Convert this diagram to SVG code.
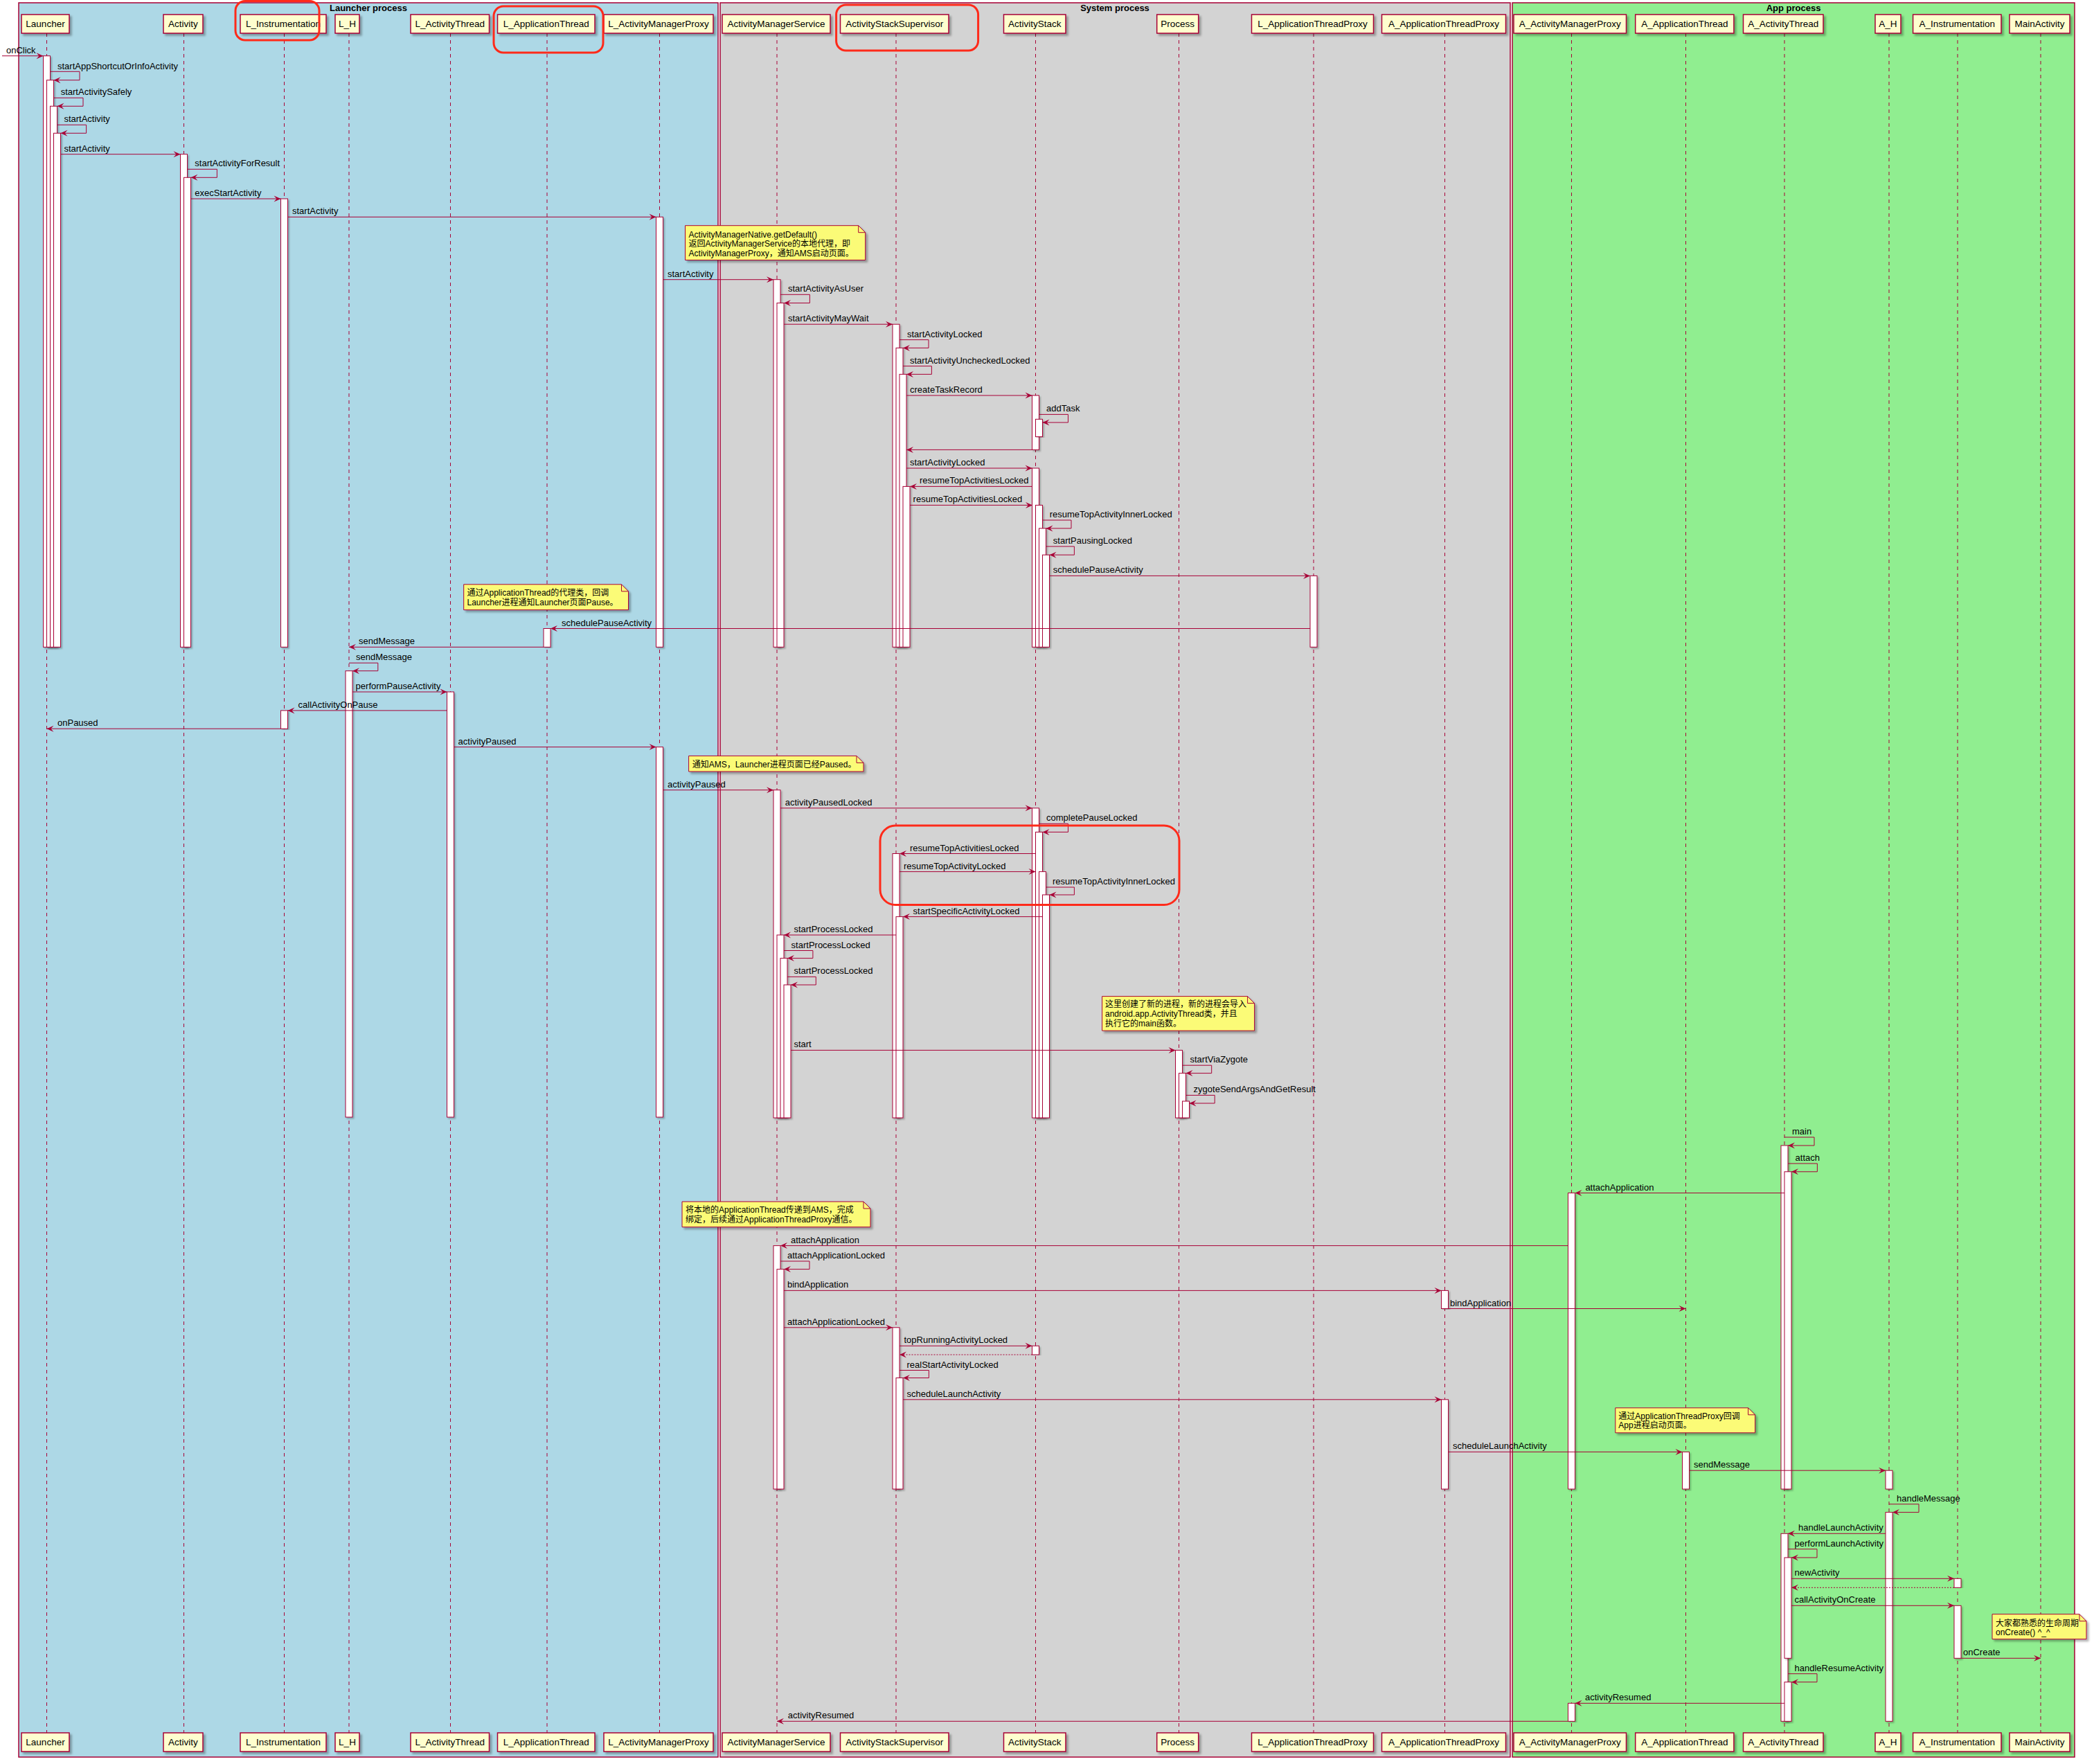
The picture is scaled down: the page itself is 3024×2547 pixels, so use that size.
<svg xmlns="http://www.w3.org/2000/svg" width="3024" height="2547" viewBox="0 0 3024 2547">
<defs>
<style>
.pbox{fill:#FEFECE;stroke:#A80036;stroke-width:1.5;filter:url(#sh)}
.ptxt{font-family:"Liberation Sans",Arial,sans-serif;font-size:13.5px;fill:#000;text-anchor:middle}
.life{stroke:#A80036;stroke-width:1;stroke-dasharray:5,5;fill:none}
.bar{fill:#FFFFFF;stroke:#A80036;stroke-width:1;filter:url(#sh2)}
.msg{stroke:#A80036;stroke-width:1;fill:none;marker-end:url(#ah)}
.ret{stroke:#A80036;stroke-width:1;fill:none;stroke-dasharray:2,2;marker-end:url(#ah)}
.lbl{font-family:"Liberation Sans",Arial,sans-serif;font-size:13px;fill:#000}
.note{fill:#FBFB77;stroke:#A80036;stroke-width:1;filter:url(#sh)}
.fold{fill:none;stroke:#A80036;stroke-width:1}
.ntxt{font-family:"Liberation Sans","Noto Sans CJK SC",sans-serif;font-size:12px;fill:#000}
.grp{stroke:#A80036;stroke-width:1.5}
.gtitle{font-family:"Liberation Sans",Arial,sans-serif;font-size:13px;font-weight:bold;fill:#000;text-anchor:middle}
.hl{fill:none;stroke:#FF2A1A;stroke-width:3}
</style>
<filter id="sh" x="-10%" y="-10%" width="130%" height="150%"><feDropShadow dx="3" dy="3" stdDeviation="1.5" flood-color="#000" flood-opacity="0.3"/></filter>
<filter id="sh2" x="-50%" y="-5%" width="200%" height="110%"><feDropShadow dx="2" dy="2" stdDeviation="1" flood-color="#000" flood-opacity="0.25"/></filter>
<marker id="ah" viewBox="-11 -5 12 10" refX="0" refY="0" markerWidth="12" markerHeight="10" orient="auto" markerUnits="userSpaceOnUse"><path d="M0,0 L-10,-4.5 L-6,0 L-10,4.5 Z" fill="#A80036"/></marker>
</defs>
<rect width="3024" height="2547" fill="#FFFFFF"/>

<g id="groups">
<rect class="grp" x="27" y="4" width="1010" height="2533" fill="#ADD8E6"/>
<text class="gtitle" x="532" y="16">Launcher process</text>
<rect class="grp" x="1040" y="4" width="1141" height="2533" fill="#D3D3D3"/>
<text class="gtitle" x="1610" y="16">System process</text>
<rect class="grp" x="2184" y="4" width="812" height="2533" fill="#90EE90"/>
<text class="gtitle" x="2590" y="16">App process</text>
</g>

<g id="participants">
<g id="Launcher"><line class="life" x1="67.5" y1="48" x2="67.5" y2="2502"/><rect class="pbox" x="31" y="21" width="69" height="27"/><text class="ptxt" x="65.5" y="39">Launcher</text><rect class="pbox" x="31" y="2502" width="69" height="27"/><text class="ptxt" x="65.5" y="2520">Launcher</text></g>
<g id="Activity"><line class="life" x1="265.5" y1="48" x2="265.5" y2="2502"/><rect class="pbox" x="236" y="21" width="57" height="27"/><text class="ptxt" x="264.5" y="39">Activity</text><rect class="pbox" x="236" y="2502" width="57" height="27"/><text class="ptxt" x="264.5" y="2520">Activity</text></g>
<g id="L_Instrumentation"><line class="life" x1="410.5" y1="48" x2="410.5" y2="2502"/><rect class="pbox" x="347" y="21" width="124" height="27"/><text class="ptxt" x="409" y="39">L_Instrumentation</text><rect class="pbox" x="347" y="2502" width="124" height="27"/><text class="ptxt" x="409" y="2520">L_Instrumentation</text></g>
<g id="L_H"><line class="life" x1="504" y1="48" x2="504" y2="2502"/><rect class="pbox" x="484" y="21" width="35" height="27"/><text class="ptxt" x="501.5" y="39">L_H</text><rect class="pbox" x="484" y="2502" width="35" height="27"/><text class="ptxt" x="501.5" y="2520">L_H</text></g>
<g id="L_ActivityThread"><line class="life" x1="650.5" y1="48" x2="650.5" y2="2502"/><rect class="pbox" x="593" y="21" width="113.5" height="27"/><text class="ptxt" x="649.75" y="39">L_ActivityThread</text><rect class="pbox" x="593" y="2502" width="113.5" height="27"/><text class="ptxt" x="649.75" y="2520">L_ActivityThread</text></g>
<g id="L_ApplicationThread"><line class="life" x1="790" y1="48" x2="790" y2="2502"/><rect class="pbox" x="718.5" y="21" width="140.5" height="27"/><text class="ptxt" x="788.75" y="39">L_ApplicationThread</text><rect class="pbox" x="718.5" y="2502" width="140.5" height="27"/><text class="ptxt" x="788.75" y="2520">L_ApplicationThread</text></g>
<g id="L_ActivityManagerProxy"><line class="life" x1="952.5" y1="48" x2="952.5" y2="2502"/><rect class="pbox" x="872" y="21" width="158" height="27"/><text class="ptxt" x="951" y="39">L_ActivityManagerProxy</text><rect class="pbox" x="872" y="2502" width="158" height="27"/><text class="ptxt" x="951" y="2520">L_ActivityManagerProxy</text></g>
<g id="ActivityManagerService"><line class="life" x1="1122" y1="48" x2="1122" y2="2502"/><rect class="pbox" x="1043" y="21" width="156" height="27"/><text class="ptxt" x="1121" y="39">ActivityManagerService</text><rect class="pbox" x="1043" y="2502" width="156" height="27"/><text class="ptxt" x="1121" y="2520">ActivityManagerService</text></g>
<g id="ActivityStackSupervisor"><line class="life" x1="1294" y1="48" x2="1294" y2="2502"/><rect class="pbox" x="1213.5" y="21" width="156.5" height="27"/><text class="ptxt" x="1291.75" y="39">ActivityStackSupervisor</text><rect class="pbox" x="1213.5" y="2502" width="156.5" height="27"/><text class="ptxt" x="1291.75" y="2520">ActivityStackSupervisor</text></g>
<g id="ActivityStack"><line class="life" x1="1495.5" y1="48" x2="1495.5" y2="2502"/><rect class="pbox" x="1449.5" y="21" width="89.5" height="27"/><text class="ptxt" x="1494.25" y="39">ActivityStack</text><rect class="pbox" x="1449.5" y="2502" width="89.5" height="27"/><text class="ptxt" x="1494.25" y="2520">ActivityStack</text></g>
<g id="Process"><line class="life" x1="1702.5" y1="48" x2="1702.5" y2="2502"/><rect class="pbox" x="1670.7" y="21" width="60" height="27"/><text class="ptxt" x="1700.7" y="39">Process</text><rect class="pbox" x="1670.7" y="2502" width="60" height="27"/><text class="ptxt" x="1700.7" y="2520">Process</text></g>
<g id="L_ApplicationThreadProxy"><line class="life" x1="1897" y1="48" x2="1897" y2="2502"/><rect class="pbox" x="1807.5" y="21" width="176" height="27"/><text class="ptxt" x="1895.5" y="39">L_ApplicationThreadProxy</text><rect class="pbox" x="1807.5" y="2502" width="176" height="27"/><text class="ptxt" x="1895.5" y="2520">L_ApplicationThreadProxy</text></g>
<g id="A_ApplicationThreadProxy"><line class="life" x1="2086.5" y1="48" x2="2086.5" y2="2502"/><rect class="pbox" x="1995.5" y="21" width="179" height="27"/><text class="ptxt" x="2085" y="39">A_ApplicationThreadProxy</text><rect class="pbox" x="1995.5" y="2502" width="179" height="27"/><text class="ptxt" x="2085" y="2520">A_ApplicationThreadProxy</text></g>
<g id="A_ActivityManagerProxy"><line class="life" x1="2269.5" y1="48" x2="2269.5" y2="2502"/><rect class="pbox" x="2186" y="21" width="162.5" height="27"/><text class="ptxt" x="2267.25" y="39">A_ActivityManagerProxy</text><rect class="pbox" x="2186" y="2502" width="162.5" height="27"/><text class="ptxt" x="2267.25" y="2520">A_ActivityManagerProxy</text></g>
<g id="A_ApplicationThread"><line class="life" x1="2434.5" y1="48" x2="2434.5" y2="2502"/><rect class="pbox" x="2361.7" y="21" width="142.2" height="27"/><text class="ptxt" x="2432.8" y="39">A_ApplicationThread</text><rect class="pbox" x="2361.7" y="2502" width="142.2" height="27"/><text class="ptxt" x="2432.8" y="2520">A_ApplicationThread</text></g>
<g id="A_ActivityThread"><line class="life" x1="2577" y1="48" x2="2577" y2="2502"/><rect class="pbox" x="2517.5" y="21" width="115.5" height="27"/><text class="ptxt" x="2575.25" y="39">A_ActivityThread</text><rect class="pbox" x="2517.5" y="2502" width="115.5" height="27"/><text class="ptxt" x="2575.25" y="2520">A_ActivityThread</text></g>
<g id="A_H"><line class="life" x1="2728" y1="48" x2="2728" y2="2502"/><rect class="pbox" x="2708" y="21" width="37" height="27"/><text class="ptxt" x="2726.5" y="39">A_H</text><rect class="pbox" x="2708" y="2502" width="37" height="27"/><text class="ptxt" x="2726.5" y="2520">A_H</text></g>
<g id="A_Instrumentation"><line class="life" x1="2827" y1="48" x2="2827" y2="2502"/><rect class="pbox" x="2762.6" y="21" width="127.4" height="27"/><text class="ptxt" x="2826.3" y="39">A_Instrumentation</text><rect class="pbox" x="2762.6" y="2502" width="127.4" height="27"/><text class="ptxt" x="2826.3" y="2520">A_Instrumentation</text></g>
<g id="MainActivity"><line class="life" x1="2947" y1="48" x2="2947" y2="2502"/><rect class="pbox" x="2902" y="21" width="87" height="27"/><text class="ptxt" x="2945.5" y="39">MainActivity</text><rect class="pbox" x="2902" y="2502" width="87" height="27"/><text class="ptxt" x="2945.5" y="2520">MainActivity</text></g>
</g>

<g id="activations">
<rect class="bar" x="62.5" y="80.7" width="10" height="853.6"/>
<rect class="bar" x="67.5" y="115.7" width="10" height="818.6"/>
<rect class="bar" x="72.5" y="153.3" width="10" height="781"/>
<rect class="bar" x="77.5" y="192.3" width="10" height="742"/>
<rect class="bar" x="260.5" y="222.7" width="10" height="711.6"/>
<rect class="bar" x="265.5" y="256.3" width="10" height="678"/>
<rect class="bar" x="405.5" y="287" width="10" height="647.3"/>
<rect class="bar" x="405.5" y="1025.9" width="10" height="26.3"/>
<rect class="bar" x="499" y="968.7" width="10" height="644.3"/>
<rect class="bar" x="645.5" y="999" width="10" height="614"/>
<rect class="bar" x="785" y="907.5" width="10" height="26.8"/>
<rect class="bar" x="947.5" y="313.3" width="10" height="621"/>
<rect class="bar" x="947.5" y="1078.6" width="10" height="534.4"/>
<rect class="bar" x="1117" y="403.7" width="10" height="530.6"/>
<rect class="bar" x="1122" y="437.5" width="10" height="496.8"/>
<rect class="bar" x="1117" y="1140.7" width="10" height="473.3"/>
<rect class="bar" x="1122" y="1350" width="10" height="264"/>
<rect class="bar" x="1127" y="1383.6" width="10" height="230.4"/>
<rect class="bar" x="1132" y="1422" width="10" height="192"/>
<rect class="bar" x="1117" y="1798.6" width="10" height="351.4"/>
<rect class="bar" x="1122" y="1832.6" width="10" height="317.4"/>
<rect class="bar" x="1289" y="468.2" width="10" height="466.1"/>
<rect class="bar" x="1294" y="502.4" width="10" height="431.9"/>
<rect class="bar" x="1299" y="540.4" width="10" height="393.9"/>
<rect class="bar" x="1304" y="702.4" width="10" height="231.9"/>
<rect class="bar" x="1289" y="1232.5" width="10" height="381.5"/>
<rect class="bar" x="1294" y="1323.6" width="10" height="290.4"/>
<rect class="bar" x="1289" y="1916.8" width="10" height="233.2"/>
<rect class="bar" x="1294" y="1989.5" width="10" height="160.5"/>
<rect class="bar" x="1490.5" y="571" width="10" height="78.4"/>
<rect class="bar" x="1495.5" y="605.3" width="10" height="25.3"/>
<rect class="bar" x="1490.5" y="676" width="10" height="258.3"/>
<rect class="bar" x="1495.5" y="729.4" width="10" height="204.9"/>
<rect class="bar" x="1500.5" y="762.9" width="10" height="171.4"/>
<rect class="bar" x="1505.5" y="801.2" width="10" height="133.1"/>
<rect class="bar" x="1490.5" y="1166.8" width="10" height="447.2"/>
<rect class="bar" x="1495.5" y="1201.4" width="10" height="412.6"/>
<rect class="bar" x="1500.5" y="1258.6" width="10" height="355.4"/>
<rect class="bar" x="1505.5" y="1292" width="10" height="322"/>
<rect class="bar" x="1490.5" y="1943.3" width="10" height="12.7"/>
<rect class="bar" x="1697.5" y="1516.4" width="10" height="97.6"/>
<rect class="bar" x="1702.5" y="1549.6" width="10" height="64.4"/>
<rect class="bar" x="1707.5" y="1590" width="10" height="24"/>
<rect class="bar" x="1892" y="831.4" width="10" height="102.9"/>
<rect class="bar" x="2081.5" y="1863.4" width="10" height="26.1"/>
<rect class="bar" x="2081.5" y="2020.8" width="10" height="129.2"/>
<rect class="bar" x="2264.5" y="1722.5" width="10" height="427.5"/>
<rect class="bar" x="2264.5" y="2459.3" width="10" height="26"/>
<rect class="bar" x="2429.5" y="2096.4" width="10" height="53.6"/>
<rect class="bar" x="2572" y="1654" width="10" height="496"/>
<rect class="bar" x="2577" y="1691.8" width="10" height="458.2"/>
<rect class="bar" x="2572" y="2214.3" width="10" height="271"/>
<rect class="bar" x="2577" y="2249" width="10" height="145.3"/>
<rect class="bar" x="2577" y="2428.7" width="10" height="56.6"/>
<rect class="bar" x="2723" y="2123.2" width="10" height="26.8"/>
<rect class="bar" x="2723" y="2183.6" width="10" height="301.7"/>
<rect class="bar" x="2822" y="2279.3" width="10" height="13"/>
<rect class="bar" x="2822" y="2318.3" width="10" height="76"/>
</g>

<g id="notes">
<g id="note1"><path class="note" d="M989.5,325.7 L1239.7,325.7 L1249.7,335.7 L1249.7,375.5 L989.5,375.5 Z"/><path class="fold" d="M1239.7,325.7 L1239.7,335.7 L1249.7,335.7"/>
<text class="ntxt" x="994.6" y="342.5">ActivityManagerNative.getDefault()</text><text class="ntxt" x="994.6" y="356">返回ActivityManagerService的本地代理，即</text><text class="ntxt" x="994.6" y="369.5">ActivityManagerProxy，通知AMS启动页面。</text></g>
<g id="note2"><path class="note" d="M669.7,843.8 L897.5,843.8 L907.5,853.8 L907.5,880.6 L669.7,880.6 Z"/><path class="fold" d="M897.5,843.8 L897.5,853.8 L907.5,853.8"/>
<text class="ntxt" x="674.5" y="859.8">通过ApplicationThread的代理类，回调</text><text class="ntxt" x="674.5" y="873.7">Launcher进程通知Launcher页面Pause。</text></g>
<g id="note3"><path class="note" d="M994.6,1091.4 L1237,1091.4 L1247,1101.4 L1247,1114 L994.6,1114 Z"/><path class="fold" d="M1237,1091.4 L1237,1101.4 L1247,1101.4"/>
<text class="ntxt" x="999.7" y="1107.5">通知AMS，Launcher进程页面已经Paused。</text></g>
<g id="note4"><path class="note" d="M1591.6,1438.6 L1801.6,1438.6 L1811.6,1448.6 L1811.6,1488.2 L1591.6,1488.2 Z"/><path class="fold" d="M1801.6,1438.6 L1801.6,1448.6 L1811.6,1448.6"/>
<text class="ntxt" x="1596" y="1454.4">这里创建了新的进程，新的进程会导入</text><text class="ntxt" x="1596" y="1468">android.app.ActivityThread类，并且</text><text class="ntxt" x="1596" y="1481.5">执行它的main函数。</text></g>
<g id="note5"><path class="note" d="M985,1735 L1247,1735 L1257,1745 L1257,1771.7 L985,1771.7 Z"/><path class="fold" d="M1247,1735 L1247,1745 L1257,1745"/>
<text class="ntxt" x="990" y="1750.8">将本地的ApplicationThread传递到AMS，完成</text><text class="ntxt" x="990" y="1764.6">绑定，后续通过ApplicationThreadProxy通信。</text></g>
<g id="note6"><path class="note" d="M2332.8,2032.8 L2524.6,2032.8 L2534.6,2042.8 L2534.6,2068.8 L2332.8,2068.8 Z"/><path class="fold" d="M2524.6,2032.8 L2524.6,2042.8 L2534.6,2042.8"/>
<text class="ntxt" x="2337.3" y="2048.7">通过ApplicationThreadProxy回调</text><text class="ntxt" x="2337.3" y="2062">App进程启动页面。</text></g>
<g id="note7"><path class="note" d="M2877,2330.7 L3003,2330.7 L3013,2340.7 L3013,2366.7 L2877,2366.7 Z"/><path class="fold" d="M3003,2330.7 L3003,2340.7 L3013,2340.7"/>
<text class="ntxt" x="2882" y="2347.7">大家都熟悉的生命周期</text><text class="ntxt" x="2882" y="2360.7">onCreate() ^_^</text></g>
</g>

<g id="connectors">
<line class="msg" x1="3" y1="80.7" x2="62.5" y2="80.7"/><text class="lbl" x="9" y="76.5">onClick</text>
<polyline class="msg" points="72.5,103.3 115,103.3 115,115.7 77.5,115.7"/><text class="lbl" x="83" y="99.5">startAppShortcutOrInfoActivity</text>
<polyline class="msg" points="77.5,141.3 120,141.3 120,153.3 82.5,153.3"/><text class="lbl" x="87.7" y="137.3">startActivitySafely</text>
<polyline class="msg" points="82.5,180.3 124.6,180.3 124.6,192.3 87.5,192.3"/><text class="lbl" x="92.4" y="176.3">startActivity</text>
<line class="msg" x1="87.5" y1="222.7" x2="260.5" y2="222.7"/><text class="lbl" x="92.4" y="218.7">startActivity</text>
<polyline class="msg" points="270.5,244.3 313.4,244.3 313.4,256.3 275.5,256.3"/><text class="lbl" x="281.3" y="240.3">startActivityForResult</text>
<line class="msg" x1="275.5" y1="287" x2="405.5" y2="287"/><text class="lbl" x="281.3" y="283">execStartActivity</text>
<line class="msg" x1="415.5" y1="313.3" x2="947.5" y2="313.3"/><text class="lbl" x="422" y="309.3">startActivity</text>
<line class="msg" x1="957.5" y1="403.7" x2="1117" y2="403.7"/><text class="lbl" x="964" y="399.7">startActivity</text>
<polyline class="msg" points="1127,425.3 1169.4,425.3 1169.4,437.5 1132,437.5"/><text class="lbl" x="1138" y="421.3">startActivityAsUser</text>
<line class="msg" x1="1132" y1="468.2" x2="1289" y2="468.2"/><text class="lbl" x="1138" y="464.2">startActivityMayWait</text>
<polyline class="msg" points="1299,490.6 1341,490.6 1341,502.4 1304,502.4"/><text class="lbl" x="1310" y="486.6">startActivityLocked</text>
<polyline class="msg" points="1304,528.6 1345.4,528.6 1345.4,540.4 1309,540.4"/><text class="lbl" x="1314" y="524.6">startActivityUncheckedLocked</text>
<line class="msg" x1="1309" y1="571" x2="1490.5" y2="571"/><text class="lbl" x="1314" y="567">createTaskRecord</text>
<polyline class="msg" points="1500.5,598.4 1542.5,598.4 1542.5,610 1505.5,610"/><text class="lbl" x="1511" y="594.4">addTask</text>
<line class="msg" x1="1490.5" y1="649.4" x2="1309" y2="649.4"/>
<line class="msg" x1="1309" y1="676" x2="1490.5" y2="676"/><text class="lbl" x="1314" y="672">startActivityLocked</text>
<line class="msg" x1="1490.5" y1="702.4" x2="1314" y2="702.4"/><text class="lbl" x="1328" y="698.4">resumeTopActivitiesLocked</text>
<line class="msg" x1="1314" y1="729.4" x2="1491" y2="729.4"/><text class="lbl" x="1318.6" y="725.4">resumeTopActivitiesLocked</text>
<polyline class="msg" points="1505.5,751 1547,751 1547,762.9 1510.5,762.9"/><text class="lbl" x="1515.7" y="747">resumeTopActivityInnerLocked</text>
<polyline class="msg" points="1510.5,789 1551.4,789 1551.4,801.2 1515.5,801.2"/><text class="lbl" x="1520.8" y="785">startPausingLocked</text>
<line class="msg" x1="1515.5" y1="831.4" x2="1892" y2="831.4"/><text class="lbl" x="1520.8" y="827.4">schedulePauseActivity</text>
<line class="msg" x1="1892" y1="907.5" x2="795" y2="907.5"/><text class="lbl" x="811" y="903.5">schedulePauseActivity</text>
<line class="msg" x1="785" y1="934.3" x2="504" y2="934.3"/><text class="lbl" x="518" y="930.3">sendMessage</text>
<polyline class="msg" points="504,957.2 545.8,957.2 545.8,968.7 509,968.7"/><text class="lbl" x="514" y="953.2">sendMessage</text>
<line class="msg" x1="509" y1="999" x2="645.5" y2="999"/><text class="lbl" x="513.6" y="995">performPauseActivity</text>
<line class="msg" x1="645.5" y1="1025.9" x2="415.5" y2="1025.9"/><text class="lbl" x="430.6" y="1021.9">callActivityOnPause</text>
<line class="msg" x1="405.5" y1="1052.2" x2="67.5" y2="1052.2"/><text class="lbl" x="83" y="1048.2">onPaused</text>
<line class="msg" x1="655.5" y1="1078.6" x2="947.5" y2="1078.6"/><text class="lbl" x="661.6" y="1074.6">activityPaused</text>
<line class="msg" x1="957.5" y1="1140.7" x2="1117" y2="1140.7"/><text class="lbl" x="964" y="1136.7">activityPaused</text>
<line class="msg" x1="1127" y1="1166.8" x2="1490.5" y2="1166.8"/><text class="lbl" x="1133.7" y="1162.8">activityPausedLocked</text>
<polyline class="msg" points="1500.5,1189.3 1542.5,1189.3 1542.5,1201.4 1505.5,1201.4"/><text class="lbl" x="1511" y="1185.3">completePauseLocked</text>
<line class="msg" x1="1495.5" y1="1232.5" x2="1299" y2="1232.5"/><text class="lbl" x="1314" y="1228.5">resumeTopActivitiesLocked</text>
<line class="msg" x1="1299" y1="1258.6" x2="1495.5" y2="1258.6"/><text class="lbl" x="1305" y="1254.6">resumeTopActivityLocked</text>
<polyline class="msg" points="1510.5,1281 1551.4,1281 1551.4,1292 1515.5,1292"/><text class="lbl" x="1520" y="1277">resumeTopActivityInnerLocked</text>
<line class="msg" x1="1505.5" y1="1323.6" x2="1304" y2="1323.6"/><text class="lbl" x="1318.6" y="1319.6">startSpecificActivityLocked</text>
<line class="msg" x1="1294" y1="1350" x2="1132" y2="1350"/><text class="lbl" x="1146.4" y="1346">startProcessLocked</text>
<polyline class="msg" points="1132,1372.5 1173.9,1372.5 1173.9,1383.6 1137,1383.6"/><text class="lbl" x="1142.6" y="1368.5">startProcessLocked</text>
<polyline class="msg" points="1137,1410.4 1178.3,1410.4 1178.3,1422 1142,1422"/><text class="lbl" x="1146.4" y="1406.4">startProcessLocked</text>
<line class="msg" x1="1142" y1="1516.4" x2="1697.5" y2="1516.4"/><text class="lbl" x="1146.4" y="1512.4">start</text>
<polyline class="msg" points="1707.5,1538.2 1749.7,1538.2 1749.7,1549.6 1712.5,1549.6"/><text class="lbl" x="1718.5" y="1534.2">startViaZygote</text>
<polyline class="msg" points="1712.5,1581.4 1754.2,1581.4 1754.2,1593 1717.5,1593"/><text class="lbl" x="1723.6" y="1577.4">zygoteSendArgsAndGetResult</text>
<polyline class="msg" points="2577,1642 2620,1642 2620,1654 2582,1654"/><text class="lbl" x="2588" y="1638">main</text>
<polyline class="msg" points="2582,1680 2624.4,1680 2624.4,1691.8 2587,1691.8"/><text class="lbl" x="2592.6" y="1676">attach</text>
<line class="msg" x1="2577" y1="1722.5" x2="2274.5" y2="1722.5"/><text class="lbl" x="2289.4" y="1718.5">attachApplication</text>
<line class="msg" x1="2264.5" y1="1798.6" x2="1127" y2="1798.6"/><text class="lbl" x="1142" y="1794.6">attachApplication</text>
<polyline class="msg" points="1127,1821 1169,1821 1169,1832.6 1132,1832.6"/><text class="lbl" x="1137" y="1817">attachApplicationLocked</text>
<line class="msg" x1="1132" y1="1863.4" x2="2081.5" y2="1863.4"/><text class="lbl" x="1137" y="1859.4">bindApplication</text>
<line class="msg" x1="2091.5" y1="1889.5" x2="2434.5" y2="1889.5"/><text class="lbl" x="2094" y="1885.5">bindApplication</text>
<line class="msg" x1="1132" y1="1916.8" x2="1289" y2="1916.8"/><text class="lbl" x="1137" y="1912.8">attachApplicationLocked</text>
<line class="msg" x1="1299" y1="1943.3" x2="1490.5" y2="1943.3"/><text class="lbl" x="1305.5" y="1939.3">topRunningActivityLocked</text>
<line class="ret" x1="1490.5" y1="1956" x2="1299" y2="1956"/>
<polyline class="msg" points="1299,1978.5 1341.4,1978.5 1341.4,1989.5 1304,1989.5"/><text class="lbl" x="1309.5" y="1974.5">realStartActivityLocked</text>
<line class="msg" x1="1304" y1="2020.8" x2="2081.5" y2="2020.8"/><text class="lbl" x="1309.5" y="2016.8">scheduleLaunchActivity</text>
<line class="msg" x1="2091.5" y1="2096.4" x2="2429.5" y2="2096.4"/><text class="lbl" x="2098" y="2092.4">scheduleLaunchActivity</text>
<line class="msg" x1="2439.5" y1="2123.2" x2="2723" y2="2123.2"/><text class="lbl" x="2446" y="2119.2">sendMessage</text>
<polyline class="msg" points="2728,2171.8 2771,2171.8 2771,2183.6 2733,2183.6"/><text class="lbl" x="2739" y="2167.8">handleMessage</text>
<line class="msg" x1="2723" y1="2214.3" x2="2582" y2="2214.3"/><text class="lbl" x="2597" y="2210.3">handleLaunchActivity</text>
<polyline class="msg" points="2582,2236.7 2624,2236.7 2624,2249 2587,2249"/><text class="lbl" x="2591.5" y="2232.7">performLaunchActivity</text>
<line class="msg" x1="2587" y1="2279.3" x2="2822" y2="2279.3"/><text class="lbl" x="2591.5" y="2275.3">newActivity</text>
<line class="ret" x1="2822" y1="2292.3" x2="2587" y2="2292.3"/>
<line class="msg" x1="2587" y1="2318.3" x2="2822" y2="2318.3"/><text class="lbl" x="2591.5" y="2314.3">callActivityOnCreate</text>
<line class="msg" x1="2832" y1="2394.3" x2="2947" y2="2394.3"/><text class="lbl" x="2835" y="2390.3">onCreate</text>
<polyline class="msg" points="2582,2416.7 2624,2416.7 2624,2428.7 2587,2428.7"/><text class="lbl" x="2591.5" y="2412.7">handleResumeActivity</text>
<line class="msg" x1="2577" y1="2459.3" x2="2274.5" y2="2459.3"/><text class="lbl" x="2289" y="2455.3">activityResumed</text>
<line class="msg" x1="2264.5" y1="2485.3" x2="1122" y2="2485.3"/><text class="lbl" x="1137.8" y="2481.3">activityResumed</text>
</g>

<g id="highlights">
<rect class="hl" x="340" y="1.5" width="121" height="56.5" rx="14"/>
<rect class="hl" x="713" y="9" width="158" height="67" rx="14"/>
<rect class="hl" x="1207.6" y="7" width="205" height="66" rx="14"/>
<rect class="hl" x="1271" y="1192" width="432" height="114.5" rx="22"/>
</g>
</svg>
